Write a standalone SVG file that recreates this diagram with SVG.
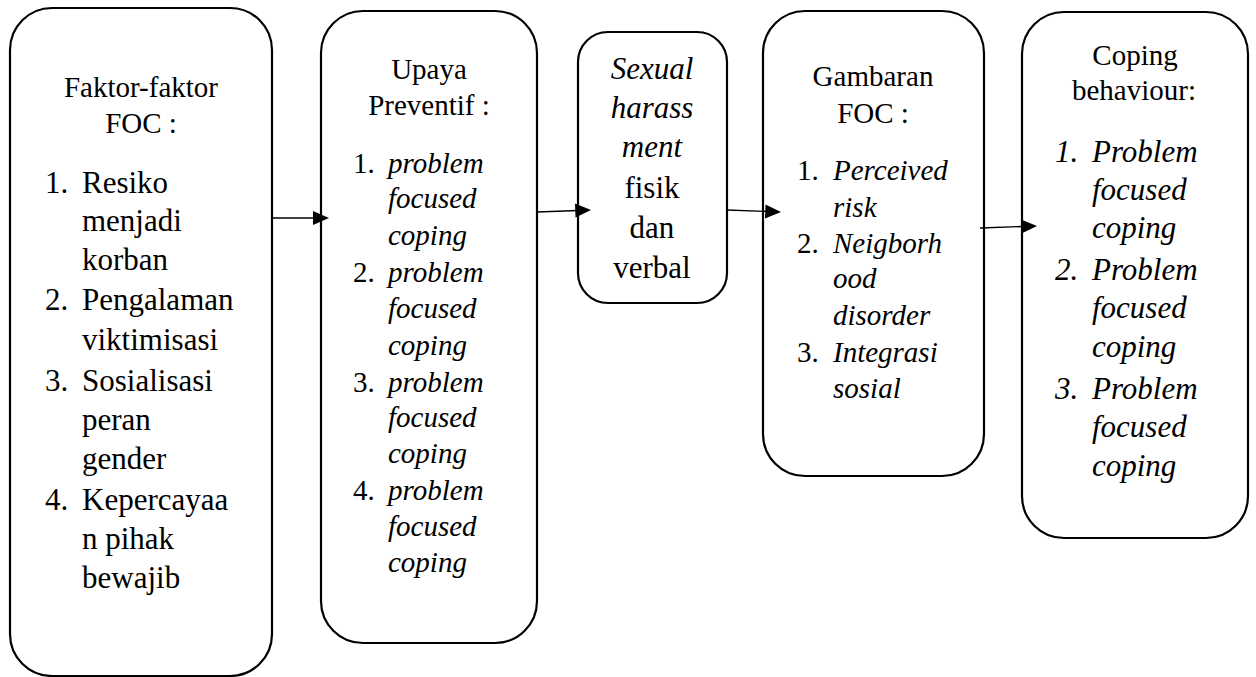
<svg xmlns="http://www.w3.org/2000/svg" width="1256" height="677" viewBox="0 0 1256 677">
<defs>
<style>
.box{fill:#fff;stroke:#000;stroke-width:2.2}
.t{font-family:"Liberation Serif","Tinos","Times New Roman","DejaVu Serif",serif;fill:#000}
.h{font-size:29px;text-anchor:middle}
.l{font-size:31px}
.m{font-size:29px}
.i{font-style:italic}
.c{text-anchor:middle}
.conn{stroke:#000;stroke-width:1.4;fill:none}
.head{fill:#000;stroke:none}
</style>
</defs>
<rect width="1256" height="677" fill="#fff"/>

<g id="node-faktor">
<rect class="box" x="10" y="8" width="262" height="668" rx="42" ry="42"/>
<text class="t h" x="141" y="97">Faktor-faktor</text>
<text class="t h" x="141" y="133">FOC :</text>
<g class="t l">
<text x="45" y="193">1.</text><text x="82" y="193">Resiko</text>
<text x="82" y="231">menjadi</text>
<text x="82" y="270">korban</text>
<text x="45" y="310">2.</text><text x="82" y="310">Pengalaman</text>
<text x="82" y="350">viktimisasi</text>
<text x="45" y="391">3.</text><text x="82" y="391">Sosialisasi</text>
<text x="82" y="430">peran</text>
<text x="82" y="469">gender</text>
<text x="45" y="510">4.</text><text x="82" y="510">Kepercayaa</text>
<text x="82" y="549">n pihak</text>
<text x="82" y="588">bewajib</text>
</g>
</g>

<g id="node-upaya">
<rect class="box" x="321" y="11" width="216" height="632" rx="42" ry="42"/>
<text class="t h" x="429" y="79">Upaya</text>
<text class="t h" x="429" y="115">Preventif :</text>
<g class="t m">
<text x="353" y="173">1.</text><text class="i" x="388" y="173">problem</text>
<text class="i" x="388" y="208">focused</text>
<text class="i" x="388" y="245">coping</text>
<text x="353" y="282">2.</text><text class="i" x="388" y="282">problem</text>
<text class="i" x="388" y="318">focused</text>
<text class="i" x="388" y="355">coping</text>
<text x="353" y="392">3.</text><text class="i" x="388" y="392">problem</text>
<text class="i" x="388" y="427">focused</text>
<text class="i" x="388" y="463">coping</text>
<text x="353" y="500">4.</text><text class="i" x="388" y="500">problem</text>
<text class="i" x="388" y="536">focused</text>
<text class="i" x="388" y="572">coping</text>
</g>
</g>

<g id="node-sexual">
<rect class="box" x="578" y="32" width="149" height="271" rx="30" ry="30"/>
<g class="t l c">
<text class="i" x="652" y="79">Sexual</text>
<text class="i" x="652" y="118">harass</text>
<text class="i" x="652" y="157">ment</text>
<text x="652" y="198">fisik</text>
<text x="652" y="238">dan</text>
<text x="652" y="278">verbal</text>
</g>
</g>

<g id="node-gambaran">
<rect class="box" x="763" y="11" width="221" height="465" rx="42" ry="42"/>
<text class="t h" x="873" y="86">Gambaran</text>
<text class="t h" x="873" y="123">FOC :</text>
<g class="t m">
<text x="797" y="180">1.</text><text class="i" x="833" y="180">Perceived</text>
<text class="i" x="833" y="217">risk</text>
<text x="797" y="253">2.</text><text class="i" x="833" y="253">Neigborh</text>
<text class="i" x="833" y="288">ood</text>
<text class="i" x="833" y="325">disorder</text>
<text x="797" y="362">3.</text><text class="i" x="833" y="362">Integrasi</text>
<text class="i" x="833" y="398">sosial</text>
</g>
</g>

<g id="node-coping">
<rect class="box" x="1022" y="12" width="226" height="526" rx="42" ry="42"/>
<text class="t h" x="1135" y="65">Coping</text>
<text class="t h" x="1134" y="100">behaviour:</text>
<g class="t l i">
<text x="1055" y="162">1.</text><text x="1092" y="162">Problem</text>
<text x="1092" y="200">focused</text>
<text x="1092" y="238">coping</text>
<text x="1055" y="280">2.</text><text x="1092" y="280">Problem</text>
<text x="1092" y="318">focused</text>
<text x="1092" y="357">coping</text>
<text x="1055" y="399">3.</text><text x="1092" y="399">Problem</text>
<text x="1092" y="437">focused</text>
<text x="1092" y="476">coping</text>
</g>
</g>

<g id="connectors">
<line class="conn" x1="272" y1="218" x2="315" y2="218"/>
<polygon class="head" points="329,218 313,211 313,225"/>
<line class="conn" x1="537" y1="212" x2="578" y2="210.5"/>
<polygon class="head" points="591,210 575,203.5 575.5,217.5"/>
<line class="conn" x1="727" y1="210" x2="767" y2="211.5"/>
<polygon class="head" points="781,212 765.5,204.5 765,218.5"/>
<line class="conn" x1="980" y1="228" x2="1023" y2="226.5"/>
<polygon class="head" points="1037,226 1021,219.5 1021.5,233.5"/>
</g>
</svg>
